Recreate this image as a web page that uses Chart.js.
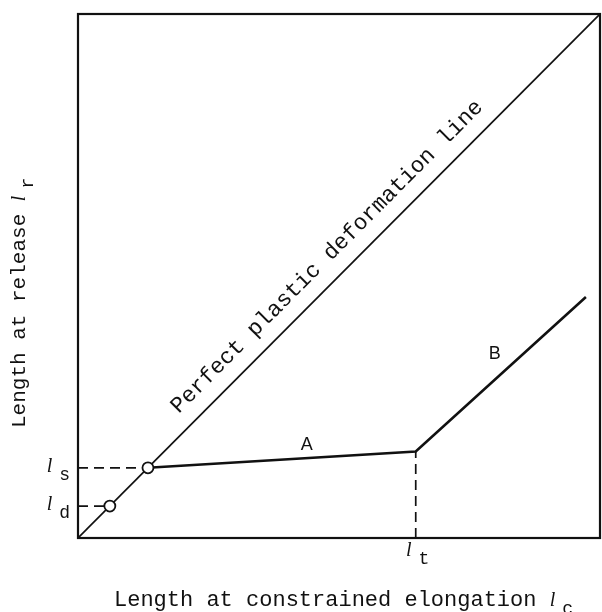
<!DOCTYPE html>
<html>
<head>
<meta charset="utf-8">
<script src="https://cdn.jsdelivr.net/npm/chart.js@4.4.1/dist/chart.umd.min.js"></script>
<style>
  html, body { margin: 0; padding: 0; background: #fff; }
  canvas { display: block; }
</style>
</head>
<body>
<canvas id="deformChart" width="602" height="612"></canvas>
<script>
// perfect plastic deformation line: l_r = l_c
const diagonalX = [0, 10];
const diagonalY = [0, 10];

// release curve: segment A from l_s to l_t, then segment B
const curveX = [1.34, 6.47, 9.73];
const curveY = [1.34, 1.65, 4.60];
const segmentNames = ['A', 'B'];

// open markers on the diagonal (l_d, l_s)
const markerX = [0.61, 1.34];
const markerY = [0.61, 1.34];
const markerSubs = ['d', 's'];

// x axis mark at l_t
const xMarkValues = [6.47];
const xMarkSubs = ['t'];

const xTitle = 'Length at constrained elongation';
const xTitleSub = 'c';
const yTitle = 'Length at release';
const yTitleSub = 'r';
const diagonalLabel = 'Perfect plastic deformation line';

const MONO = "'Liberation Mono', 'DejaVu Sans Mono', monospace";
const SERIF = "'Liberation Serif', serif";
const SANS = "'Liberation Sans Narrow', 'Liberation Sans', sans-serif";
const INK = '#111';

function pt(x, y) { return { x: x, y: y }; }

const dashedLines = [];
markerY.forEach((v, i) => {
    dashedLines.push([pt(0, v), pt(markerX[i], v)]);
});
xMarkValues.forEach(v => {
    const idx = curveX.indexOf(v);
    dashedLines.push([pt(v, 0), pt(v, idx >= 0 ? curveY[idx] : 0)]);
});

const datasets = [
    {
        label: 'markers',
        data: markerX.map((x, i) => pt(x, markerY[i])),
        showLine: false,
        pointRadius: 5.5,
        pointBackgroundColor: '#fff',
        pointBorderColor: INK,
        pointBorderWidth: 1.8
    },
    {
        label: 'curve',
        data: curveX.map((x, i) => pt(x, curveY[i])),
        borderColor: INK,
        borderWidth: 2.6,
        pointRadius: 0,
        borderJoinStyle: 'miter'
    },
    {
        label: 'diagonal',
        data: diagonalX.map((x, i) => pt(x, diagonalY[i])),
        borderColor: INK,
        borderWidth: 1.7,
        pointRadius: 0
    }
];
dashedLines.forEach((seg, i) => {
    datasets.push({
        label: 'dash' + i,
        data: seg,
        borderColor: INK,
        borderWidth: 1.7,
        borderDash: [10, 6],
        pointRadius: 0
    });
});

// italic l with a monospace subscript
function drawSubscripted(ctx, x, y, sub, align) {
    ctx.save();
    ctx.textBaseline = 'alphabetic';
    ctx.textAlign = 'left';
    ctx.font = 'italic 20px ' + SERIF;
    const lw = ctx.measureText('l').width;
    ctx.font = '18px ' + MONO;
    const sw = ctx.measureText(sub).width;
    const gap = 7;
    const total = lw + gap + sw;
    let x0 = x;
    if (align === 'right') x0 = x - total;
    if (align === 'center') x0 = x - total / 2;
    ctx.font = 'italic 20px ' + SERIF;
    ctx.fillText('l', x0, y);
    ctx.font = '18px ' + MONO;
    ctx.fillText(sub, x0 + lw + gap, y + 8);
    ctx.restore();
}

const annotations = {
    id: 'annotations',
    afterDraw(chart) {
        const ctx = chart.ctx;
        const xs = chart.scales.x, ys = chart.scales.y;
        const area = chart.chartArea;
        ctx.save();
        ctx.fillStyle = INK;
        ctx.strokeStyle = INK;

        // frame
        ctx.lineWidth = 2.2;
        ctx.strokeRect(area.left, area.top, area.right - area.left, area.bottom - area.top);

        // y marks l_d, l_s
        markerY.forEach((v, i) => {
            drawSubscripted(ctx, area.left - 8, ys.getPixelForValue(v) + 4, markerSubs[i], 'right');
        });
        // x mark l_t
        xMarkValues.forEach((v, i) => {
            drawSubscripted(ctx, xs.getPixelForValue(v) + 2, area.bottom + 18, xMarkSubs[i], 'center');
        });

        // segment names A, B
        ctx.font = '18px ' + SANS;
        ctx.textAlign = 'center';
        ctx.textBaseline = 'middle';
        const nameOffsets = [[25, -15], [-6, -20]];
        segmentNames.forEach((name, i) => {
            const mx = (xs.getPixelForValue(curveX[i]) + xs.getPixelForValue(curveX[i + 1])) / 2;
            const my = (ys.getPixelForValue(curveY[i]) + ys.getPixelForValue(curveY[i + 1])) / 2;
            ctx.fillText(name, mx + nameOffsets[i][0], my + nameOffsets[i][1]);
        });

        // label along the diagonal
        const p0x = xs.getPixelForValue(diagonalX[0]), p0y = ys.getPixelForValue(diagonalY[0]);
        const p1x = xs.getPixelForValue(diagonalX[1]), p1y = ys.getPixelForValue(diagonalY[1]);
        const angle = Math.atan2(p1y - p0y, p1x - p0x);
        ctx.save();
        ctx.translate(xs.getPixelForValue(5.07), ys.getPixelForValue(5.07));
        ctx.rotate(angle);
        ctx.font = '22.5px ' + MONO;
        ctx.textAlign = 'center';
        ctx.textBaseline = 'alphabetic';
        ctx.fillText(diagonalLabel, 0, -16);
        ctx.restore();

        // x title
        ctx.font = '22px ' + MONO;
        ctx.textAlign = 'left';
        ctx.textBaseline = 'alphabetic';
        const xtw = ctx.measureText(xTitle + ' ').width;
        ctx.fillText(xTitle, 114, 606);
        drawSubscripted(ctx, 114 + xtw, 606, xTitleSub, 'left');

        // y title
        ctx.save();
        ctx.translate(25, 428);
        ctx.rotate(-Math.PI / 2);
        ctx.font = '21px ' + MONO;
        ctx.textAlign = 'left';
        const ytw = ctx.measureText(yTitle + ' ').width;
        ctx.fillText(yTitle, 0, 0);
        drawSubscripted(ctx, ytw, 0, yTitleSub, 'left');
        ctx.restore();

        ctx.restore();
    }
};

new Chart(document.getElementById('deformChart'), {
    type: 'line',
    data: { datasets: datasets },
    options: {
        responsive: false,
        animation: false,
        layout: { autoPadding: false, padding: { left: 78, top: 14, right: 2, bottom: 74 } },
        plugins: {
            legend: { display: false },
            tooltip: { enabled: false }
        },
        scales: {
            x: { type: 'linear', min: 0, max: 10, display: false },
            y: { type: 'linear', min: 0, max: 10, display: false }
        }
    },
    plugins: [annotations]
});
</script>
</body>
</html>
